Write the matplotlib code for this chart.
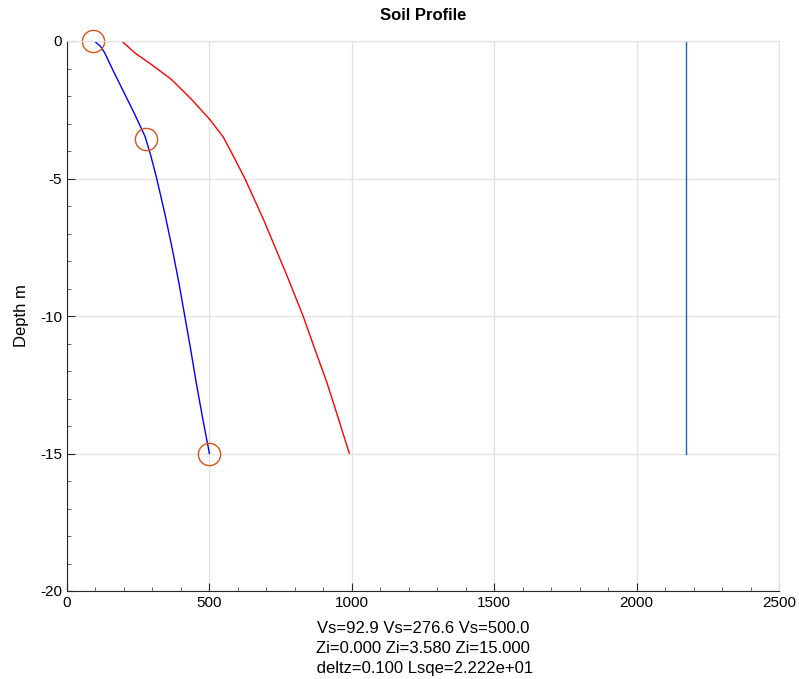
import matplotlib
matplotlib.use('Agg')
import matplotlib.pyplot as plt
from matplotlib.ticker import MultipleLocator

# values (depth in m, Vs in m/s)
blue_z = [0.0, -0.2, -0.44, -1.1, -1.83, -2.56, -3.47, -4.2, -5.0, -6.3,
          -7.63, -8.8, -10.03, -11.2, -12.5, -13.7, -15.0]
blue_vs = [96, 118, 133, 163, 198, 233, 274, 295, 315, 344,
           371, 393, 414, 434, 455, 476, 500]

red_z = [0.0, -0.44, -0.86, -1.41, -2.13, -2.86, -3.5, -4.2, -5.01, -6.47, -7.63,
         -8.6, -9.43, -10.03, -11.2, -12.4, -13.7, -14.99]
red_vs = [192, 239, 297, 368, 438, 502, 549, 585, 625, 689, 736,
          775, 807, 830, 870, 912, 952, 991]

ref_vs = [2173, 2173]
ref_z = [0.0, -15.0]

knot_vs = [92.9, 276.6, 500.0]
knot_z = [0.0, -3.58, -15.0]

plt.rcParams['font.family'] = ['Liberation Sans', 'DejaVu Sans']
plt.rcParams['axes.unicode_minus'] = False

fig = plt.figure(figsize=(7.99, 6.79), dpi=100)
ax = fig.add_axes([67/799, 1-591/679, 712/799, 550/679])

ax.plot(blue_vs, blue_z, color='blue', linewidth=1.0)
ax.plot(red_vs, red_z, color='red', linewidth=1.0)
ax.plot(ref_vs, ref_z, color='#0072BD', linewidth=1.0)
ax.plot(knot_vs, knot_z, linestyle='none', marker='o', markersize=16,
        markerfacecolor='none', markeredgecolor='#D95319', markeredgewidth=1.0,
        clip_on=False)

ax.set_xlim(0, 2500)
ax.set_ylim(-20, 0)
ax.xaxis.set_major_locator(MultipleLocator(500))
ax.yaxis.set_major_locator(MultipleLocator(5))
ax.xaxis.set_minor_locator(MultipleLocator(100))
ax.yaxis.set_minor_locator(MultipleLocator(1))
ax.tick_params(which='both', direction='in', colors='#262626', labelsize=11,
               labelcolor='black')
ax.tick_params(which='major', length=6, width=0.8)
ax.tick_params(which='minor', length=3, width=0.5)
ax.tick_params(top=False, right=False)
ax.grid(color='#e3e3e3', linewidth=1.0)
ax.set_axisbelow(True)
for s in ['left', 'bottom']:
    ax.spines[s].set_color('#262626')
for s in ['top', 'right']:
    ax.spines[s].set_color('#e3e3e3')

ax.set_title('Soil Profile', fontsize=12, fontweight='bold', pad=15)
ax.set_ylabel('Depth m', fontsize=12, labelpad=8)
ax.set_xlabel('Vs=92.9 Vs=276.6 Vs=500.0\nZi=0.000 Zi=3.580 Zi=15.000\n deltz=0.100 Lsqe=2.222e+01',
              fontsize=12, labelpad=8, linespacing=1.4)

fig.savefig('out.png', dpi=100)
